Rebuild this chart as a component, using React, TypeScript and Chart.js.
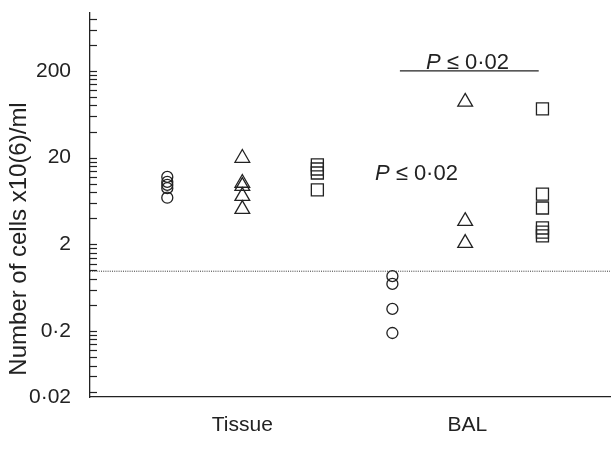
import React, { useEffect, useRef } from "react";
import { Chart, registerables } from "chart.js";

Chart.register(...registerables);

// ---- data ----
const tissueCircles = [12.0, 10.5, 9.7, 8.9, 6.9];
const tissueTriangles = [19.8, 10.2, 9.4, 7.2, 5.1];
const tissueSquares = [16.5, 14.8, 13.3, 8.5];
const balCircles = [0.86, 0.7, 0.36, 0.19];
const balTriangles = [87.8, 3.7, 2.07];
const balSquares = [72.9, 7.6, 5.25, 3.09, 2.77, 2.5];

const groupPositions = [1, 2, 3, 4, 4.97, 6];
const categoryLabels = ["Tissue", "BAL"];
const categoryPositions = [2, 5];

const yMajorTicks = [0.2, 2, 20, 200];
const yMajorLabels = ["0·2", "2", "20", "200"];
const yMinorTicks = [
  0.04, 0.06, 0.08, 0.1, 0.12, 0.14, 0.16, 0.18,
  0.4, 0.6, 0.8, 1, 1.2, 1.4, 1.6, 1.8,
  4, 6, 8, 10, 12, 14, 16, 18,
  40, 60, 80, 100, 120, 140, 160, 180,
  400, 600, 800,
];
const yMin = 0.0347;
const yMinLabel = "0·02";
const yMax = 932;
const xMin = -0.03;
const xMax = 6.9;

const referenceValue = 0.98;
const bracketX = [4.1, 5.95];
const bracketY = 200;
const pTexts = [
  { x: 5.0, y: 250 },
  { x: 4.32, y: 12.9 },
];
const yTitle = "Number of cells x10(6)/ml";

const INK = "#222";
const FONT = "'Liberation Sans', Arial, Helvetica, sans-serif";

function pts(xv: number, ys: number[]) {
  return ys.map((y) => ({ x: xv, y }));
}

const annotationPlugin = {
  id: "annot",
  afterDatasetsDraw(chart: any) {
    const { ctx, chartArea } = chart;
    const x = chart.scales.x;
    const y = chart.scales.y;
    ctx.save();
    // inward tick marks
    ctx.strokeStyle = INK;
    ctx.lineWidth = 1.2;
    y.ticks.forEach((t: any) => {
      if (t.value <= yMin * 1.01) return;
      const py = Math.round(y.getPixelForValue(t.value)) + 0.5;
      ctx.beginPath();
      ctx.moveTo(chartArea.left, py);
      ctx.lineTo(chartArea.left + 7, py);
      ctx.stroke();
    });
    // P annotations
    ctx.fillStyle = INK;
    ctx.textBaseline = "middle";
    pTexts.forEach((p) => {
      const cx = x.getPixelForValue(p.x);
      const cy = y.getPixelForValue(p.y);
      const italic = "italic 22px " + FONT;
      const normal = "22px " + FONT;
      ctx.font = italic;
      const wP = ctx.measureText("P").width;
      ctx.font = normal;
      const rest = " ≤ 0·02";
      const wR = ctx.measureText(rest).width;
      const start = cx - (wP + wR) / 2;
      ctx.textAlign = "left";
      ctx.font = italic;
      ctx.fillText("P", start, cy);
      ctx.font = normal;
      ctx.fillText(rest, start + wP, cy);
    });
    // y title
    ctx.font = "24px " + FONT;
    ctx.translate(19, (chartArea.top + chartArea.bottom) / 2 + 34);
    ctx.rotate(-Math.PI / 2);
    ctx.textAlign = "center";
    ctx.textBaseline = "middle";
    ctx.fillText(yTitle, 0, 0);
    ctx.restore();
  },
};

export default function App() {
  const ref = useRef<HTMLCanvasElement>(null);
  useEffect(() => {
    const pointBase = {
      borderColor: INK,
      backgroundColor: "rgba(0,0,0,0)",
      borderWidth: 1.3,
      showLine: false,
    };
    const chart = new Chart(ref.current as HTMLCanvasElement, {
      type: "scatter",
      data: {
        datasets: [
          { ...pointBase, data: pts(groupPositions[0], tissueCircles), pointStyle: "circle", pointRadius: 5.5 },
          { ...pointBase, data: pts(groupPositions[1], tissueTriangles), pointStyle: "triangle", pointRadius: 8.5 },
          { ...pointBase, data: pts(groupPositions[2], tissueSquares), pointStyle: "rect", pointRadius: 8.5 },
          { ...pointBase, data: pts(groupPositions[3], balCircles), pointStyle: "circle", pointRadius: 5.5 },
          { ...pointBase, data: pts(groupPositions[4], balTriangles), pointStyle: "triangle", pointRadius: 8.5 },
          { ...pointBase, data: pts(groupPositions[5], balSquares), pointStyle: "rect", pointRadius: 8.5 },
          {
            data: [{ x: xMin, y: referenceValue }, { x: xMax, y: referenceValue }],
            showLine: true,
            pointRadius: 0,
            borderColor: "#333",
            borderWidth: 1,
            borderDash: [1, 1.2],
          },
          {
            data: bracketX.map((bx) => ({ x: bx, y: bracketY })),
            showLine: true,
            pointRadius: 0,
            borderColor: INK,
            borderWidth: 1.3,
          },
        ],
      },
      plugins: [annotationPlugin],
      options: {
        animation: false,
        responsive: false,
        devicePixelRatio: 1,
        layout: { autoPadding: false, padding: { top: 13, right: 1, left: 0, bottom: 0 } },
        plugins: { legend: { display: false }, tooltip: { enabled: false } },
        elements: { point: { hoverRadius: 0 } },
        scales: {
          x: {
            type: "linear",
            min: xMin,
            max: xMax,
            grid: { display: false, drawTicks: false },
            border: { display: true, color: INK, width: 1.3 },
            afterBuildTicks: (scale: any) => {
              scale.ticks = categoryPositions.map((v) => ({ value: v }));
            },
            afterFit: (scale: any) => {
              scale.height = 61;
              scale.paddingLeft = 0;
              scale.paddingRight = 0;
            },
            ticks: {
              autoSkip: false,
              maxRotation: 0,
              padding: 16,
              color: INK,
              font: { family: FONT, size: 21 },
              callback: (v: any) => {
                const i = categoryPositions.indexOf(Number(v));
                return i >= 0 ? categoryLabels[i] : "";
              },
            },
          },
          y: {
            type: "logarithmic",
            min: yMin,
            max: yMax,
            grid: { display: false, drawTicks: false },
            border: { display: true, color: INK, width: 1.3 },
            afterBuildTicks: (scale: any) => {
              const vals = [yMin, ...yMinorTicks, ...yMajorTicks].sort((a, b) => a - b);
              scale.ticks = vals.map((v) => ({ value: v }));
            },
            afterFit: (scale: any) => {
              scale.width = 90;
              scale.paddingTop = 0;
              scale.paddingBottom = 0;
            },
            ticks: {
              autoSkip: false,
              padding: 19,
              color: INK,
              font: { family: FONT, size: 21 },
              callback: (v: any) => {
                const n = Number(v);
                if (Math.abs(n - yMin) < 1e-9) return yMinLabel;
                const i = yMajorTicks.findIndex((m) => Math.abs(m - n) < m * 1e-6);
                return i >= 0 ? yMajorLabels[i] : "";
              },
            },
          },
        },
      },
    } as any);
    return () => chart.destroy();
  }, []);
  return (
    <div style={{ position: "fixed", left: 0, top: 0, width: 611, height: 458, background: "#fff" }}>
      <canvas ref={ref} width={611} height={458} style={{ width: 611, height: 458, display: "block" }} />
    </div>
  );
}
